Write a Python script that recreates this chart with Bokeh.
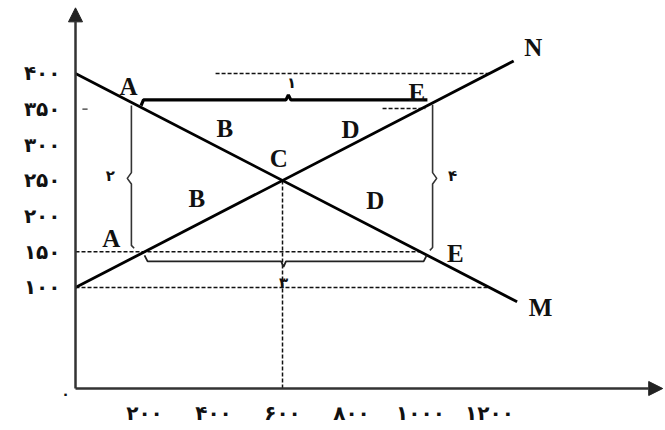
from bokeh.plotting import figure
from bokeh.models import Range1d, FixedTicker, Arrow, NormalHead
from bokeh.core.properties import value
from bokeh.embed import file_html
from bokeh.resources import INLINE

# ---- data ----
# line M (falling) and line N (rising)
m_q = [0, 1280]
m_p = [400, 80]
n_q = [0, 1270]
n_p = [100, 417.5]

# equilibrium point C
c_q = 600
c_p = 250

# axis ticks and labels (Persian digits)
x_ticks = [200, 400, 600, 800, 1000, 1200]
x_tick_labels = ["۲۰۰", "۴۰۰", "۶۰۰", "۸۰۰", "۱۰۰۰", "۱۲۰۰"]
y_ticks = [100, 150, 200, 250, 300, 350, 400]
y_tick_labels = ["۱۰۰", "۱۵۰", "۲۰۰", "۲۵۰", "۳۰۰", "۳۵۰", "۴۰۰"]
origin_label = ["۰"]
origin_q = [-29]
origin_p = [-49]
axis_p = -41.6      # price level where the horizontal axis is drawn
axis_q_end = 1702   # end of the quantity axis arrow
axis_p_end = 492    # end of the price axis arrow

# dashed guide lines: (q_start, q_end, p)
guide_h_q0 = [406, 0, 0, 890]
guide_h_q1 = [1200, 1000, 1200, 1014]
guide_h_p = [400, 150, 100, 351]

# brackets (polylines with a brace notch)
left_br_q = [162, 162, 150, 162, 162, 170]
left_br_p = [355, 261, 253, 245, 159, 155]
right_br_q = [1035, 1035, 1047, 1035, 1035, 1027]
right_br_p = [356, 261, 253, 245, 156, 152]
top_br_q = [190, 197, 610, 617, 624, 1020]
top_br_p = [355, 363, 363, 370, 363, 363]
bot_br_q = [200, 209, 596, 603, 610, 1009, 1018]
bot_br_p = [145, 136.5, 136.5, 129, 136.5, 136.5, 145]

# small tick inside the price axis
inner_tick_q = [20, 35]
inner_tick_p = [350, 350]

# point labels
pt_text = ["A", "A", "B", "B", "C", "D", "D", "E", "E", "N", "M"]
pt_q = [154, 104, 433, 352, 589, 797, 869, 989, 1101, 1327, 1348]
pt_p = [382, 168, 323, 225, 281, 321, 222, 374, 147, 436, 72]

# bracket number labels
num_text = ["۱", "۲", "۳", "۴"]
num_q = [626, 101, 603, 1093]
num_p = [387, 256, 106, 256]

# ---- figure ----
p = figure(frame_width=603, frame_height=400,
           x_range=Range1d(-43.5, 1704.3), y_range=Range1d(-58.4, 502.3),
           min_border_left=60, min_border_right=0, min_border_top=0,
           min_border_bottom=24,
           output_backend="svg", toolbar_location=None)
p.outline_line_color = None
p.grid.visible = False
p.background_fill_color = "white"

for ax in (p.xaxis[0], p.yaxis[0]):
    ax.axis_line_color = None
    ax.major_tick_line_color = None
    ax.minor_tick_line_color = None
    ax.major_tick_out = 0
    ax.major_tick_in = 0
    ax.major_label_text_font = "DejaVu Sans"
    ax.major_label_text_font_size = "20px"
    ax.major_label_text_font_style = "bold"
    ax.major_label_text_color = "#111111"

p.xaxis.ticker = FixedTicker(ticks=x_ticks)
p.xaxis.major_label_overrides = {t: l for t, l in zip(x_ticks, x_tick_labels)}
p.xaxis.major_label_standoff = 0
p.yaxis.ticker = FixedTicker(ticks=y_ticks)
p.yaxis.major_label_overrides = {t: l for t, l in zip(y_ticks, y_tick_labels)}
p.yaxis.major_label_standoff = 0

# axes with arrows
p.add_layout(Arrow(end=NormalHead(size=14, fill_color="#222222", line_color="#222222"),
                   x_start=0, y_start=axis_p, x_end=0, y_end=axis_p_end,
                   line_width=2.5, line_color="#333333"))
p.add_layout(Arrow(end=NormalHead(size=14, fill_color="#222222", line_color="#222222"),
                   x_start=0, y_start=axis_p, x_end=axis_q_end, y_end=axis_p,
                   line_width=2.5, line_color="#333333"))
p.text(x=origin_q, y=origin_p, text=origin_label, text_font=value("DejaVu Sans"),
       text_font_size="14px", text_font_style="bold", text_align="center",
       text_baseline="middle", text_color="#111111")

# dashed guides
p.segment(x0=guide_h_q0, y0=guide_h_p, x1=guide_h_q1, y1=guide_h_p,
          line_color="#111111", line_width=1.5, line_dash="4 2")
p.segment(x0=[c_q], y0=[c_p], x1=[c_q], y1=[axis_p],
          line_color="#111111", line_width=1.5, line_dash="4 2")

# main lines
p.line(m_q, m_p, line_color="#000000", line_width=2.8)
p.line(n_q, n_p, line_color="#000000", line_width=2.8)

# brackets
p.line(left_br_q, left_br_p, line_color="#333333", line_width=1.6)
p.line(right_br_q, right_br_p, line_color="#333333", line_width=1.6)
p.line(top_br_q, top_br_p, line_color="#000000", line_width=3.2)
p.line(bot_br_q, bot_br_p, line_color="#222222", line_width=1.8)
p.line(inner_tick_q, inner_tick_p, line_color="#333333", line_width=1.3)

# labels
p.text(x=pt_q, y=pt_p, text=pt_text, text_font=value("Liberation Serif"),
       text_font_style="bold", text_font_size="25px", text_align="center",
       text_baseline="middle", text_color="#111111")
p.text(x=num_q, y=num_p, text=num_text, text_font=value("DejaVu Sans"),
       text_font_style="bold", text_font_size="15px", text_align="center",
       text_baseline="middle", text_color="#111111")

open("out.html", "w").write(file_html(p, INLINE))
